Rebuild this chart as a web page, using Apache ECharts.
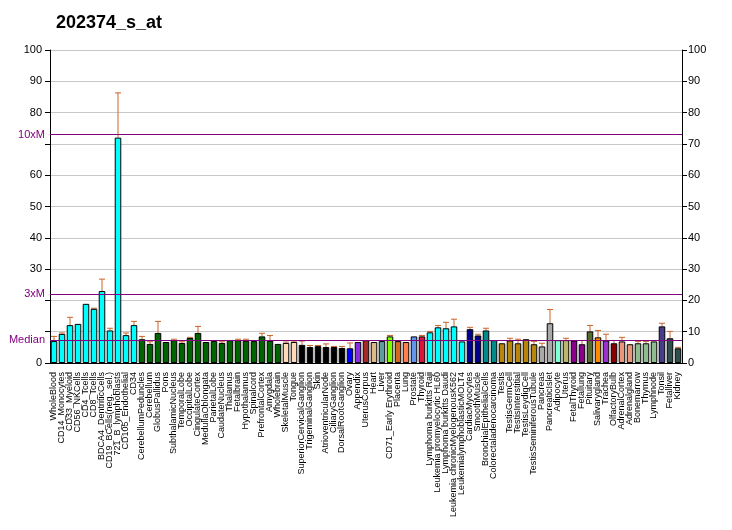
<!DOCTYPE html>
<html><head><meta charset="utf-8">
<script src="https://cdn.jsdelivr.net/npm/echarts@6/dist/echarts.min.js"></script>
<style>html,body{margin:0;padding:0;background:#fff}#c{width:732px;height:530px}</style>
</head><body><div id="c"></div>
<script>
const categories = ["WholeBlood","CD14_Monocytes","CD33_Myeloid","CD56_NKCells","CD4_Tcells","CD8_Tcells","BDCA4_DentriticCells","CD19_BCells(neg._sel.)","721_B_lymphoblasts","CD105_Endothelial","CD34","CerebellumPeduncles","Cerebellum","GlobusPallidus","Pons","SubthalamicNucleus","TemporalLobe","OccipitalLobe","CingulateCortex","MedullaOblongata","ParietalLobe","CaudateNucleus","Thalamus","Fetalbrain","Hypothalamus","Spinalcord","PrefrontalCortex","Amygdala","Wholebrain","SkeletalMuscle","Tongue","SuperiorCervicalGanglion","TrigeminalGanglion","Skin","AtrioventricularNode","CiliaryGanglion","DorsalRootGanglion","Ovary","Appendix","UterusCorpus","Heart","Liver","CD71_Early Erythroid","Placenta","Lung","Prostate","Thyroid","Lymphoma burkitts Raji","Leukemia promyelocytic HL60","Lymphoma burkitts Daudi","Leukemia chronicMyelogenousK562","LeukemialymphoblasticMOLT4","CardiacMyocytes","SmoothMuscle","BronchialEpithelialCells","Colorectaladenocarcinoma","Testis","TestisGermCell","TestisInterstitial","TestisLeydigCell","TestisSeminiferousTubule","Pancreas","PancreaticIslet","Adipocyte","Uterus","FetalThyroid","Fetallung","Pituitary","Salivarygland","Trachea","OlfactoryBulb","AdrenalCortex","Adrenalgland","Bonemarrow","Thymus","Lymphnode","Tonsil","Fetalliver","Kidney"];
const values = [7.0,9.3,12.1,12.5,18.9,17.3,23.0,10.4,72.0,8.9,12.1,7.6,6.1,9.6,6.7,7.3,6.4,8.0,9.6,6.7,7.0,6.4,7.3,7.3,7.1,7.0,8.5,7.1,6.1,6.4,6.7,5.8,5.1,5.4,5.1,5.1,4.8,4.7,6.7,7.3,6.7,7.0,8.5,7.0,6.7,8.5,8.5,9.8,11.4,11.1,11.7,6.9,10.8,8.8,10.4,7.3,6.3,7.2,6.3,7.6,6.0,5.3,12.7,7.3,7.3,7.2,6.0,10.1,8.2,7.2,6.3,6.9,6.0,6.3,6.3,6.9,11.7,7.9,4.7];
const errHigh = [8.5,9.6,14.6,null,null,17.5,26.8,11.1,86.3,9.6,13.3,8.5,6.8,13.3,null,7.6,6.8,8.2,11.7,null,null,6.8,null,7.6,7.6,null,9.5,8.8,null,6.7,7.0,7.0,5.6,5.6,6.1,5.3,5.3,6.4,null,null,null,null,8.8,null,null,null,8.8,10.1,12.0,13.0,14.0,null,11.4,9.2,11.1,null,null,7.9,7.6,null,6.9,6.3,17.1,null,7.9,null,7.2,12.0,10.4,9.2,7.2,8.2,null,6.9,6.9,null,12.7,10.1,5.0];
const median = 7.3;
const hiddenLeftTicks = [10,20,70];

const barColors = [
 '#00FFFF','#00FFFF','#00FFFF','#00FFFF','#00FFFF','#00FFFF','#00FFFF','#00FFFF','#00FFFF','#00FFFF','#00FFFF',
 '#006400','#006400','#006400','#006400','#006400','#006400','#006400','#006400','#006400','#006400','#006400','#006400','#006400','#006400','#006400','#006400','#006400','#006400',
 '#FFDAB9','#FFDAB9',
 '#000000','#000000','#000000','#000000','#000000','#000000',
 '#0000FF','#8A2BE2','#A52A2A','#DEB887','#5F9EA0','#7FFF00','#D2691E','#FF7F50','#6495ED','#DC143C',
 '#00FFFF','#00FFFF','#00FFFF','#00FFFF','#00FFFF',
 '#00008B','#00008B','#008B8B','#008B8B',
 '#B8860B','#B8860B','#B8860B','#B8860B','#B8860B',
 '#A9A9A9','#A9A9A9','#7FFFD4','#BDB76B','#8B008B','#8B008B','#556B2F','#FF8C00','#9932CC','#8B0000',
 '#E9967A','#E9967A','#8FBC8F','#8FBC8F','#8FBC8F','#483D8B','#2F4F4F','#2F4F4F'];

const errData = [];
errHigh.forEach((h, i) => { if (h !== null) errData.push([i, h, values[i]]); });

const chart = echarts.init(document.getElementById('c'));
const font = 'Liberation Sans, Arial, sans-serif';
chart.setOption({
  animation: false,
  title: { text: '202374_s_at', left: 51, top: 9,
    textStyle: { fontFamily: font, fontSize: 18, fontWeight: 'bold', color: '#000' } },
  grid: { left: 50, right: 50, top: 50, bottom: 167 },
  xAxis: { type: 'category', data: categories,
    axisLine: { lineStyle: { color: '#000' } },
    axisTick: { alignWithLabel: true, length: 5, lineStyle: { color: '#000' } },
    axisLabel: { rotate: 90, interval: 0, fontSize: 9, fontFamily: font, color: '#000', margin: 9 } },
  yAxis: [
    { type: 'value', min: 0, max: 100, interval: 10, position: 'left',
      axisLine: { show: true, lineStyle: { color: '#000' } },
      axisTick: { show: true, length: 5, lineStyle: { color: '#000' } },
      splitLine: { show: true, lineStyle: { color: '#C8C8C8' } },
      axisLabel: { fontSize: 11, fontFamily: font, color: '#000',
        formatter: v => hiddenLeftTicks.includes(v) ? '' : String(v) } },
    { type: 'value', min: 0, max: 100, interval: 10, position: 'right',
      axisLine: { show: true, lineStyle: { color: '#000' } },
      axisTick: { show: true, length: 5, lineStyle: { color: '#000' } },
      splitLine: { show: false },
      axisLabel: { fontSize: 11, fontFamily: font, color: '#000', margin: 6 } }
  ],
  series: [
    { type: 'bar', data: values.map((v, i) => ({ value: v, itemStyle: { color: barColors[i] } })),
      barCategoryGap: '18%',
      itemStyle: { borderColor: '#000', borderWidth: 1 },
      markLine: { silent: true, symbol: 'none',
        lineStyle: { color: '#800080', type: 'solid', width: 1 },
        label: { position: 'start', formatter: '{b}', color: '#800080', fontSize: 11, fontFamily: font, distance: 5 },
        data: [ { name: 'Median', yAxis: median }, { name: '3xM', yAxis: 3 * median }, { name: '10xM', yAxis: 10 * median } ] },
      z: 2 },
    { type: 'custom', data: errData, encode: { x: 0, y: [1, 2] }, z: 1,
      renderItem: function (params, api) {
        const i = api.value(0);
        const top = api.coord([i, api.value(1)]);
        const bot = api.coord([i, api.value(2)]);
        const st = { stroke: '#C8642C', lineWidth: 1 };
        return { type: 'group', children: [
          { type: 'line', shape: { x1: top[0], y1: top[1], x2: bot[0], y2: bot[1] }, style: st },
          { type: 'line', shape: { x1: top[0] - 3, y1: top[1], x2: top[0] + 3, y2: top[1] }, style: st }
        ] };
      } }
  ]
});
</script></body></html>
